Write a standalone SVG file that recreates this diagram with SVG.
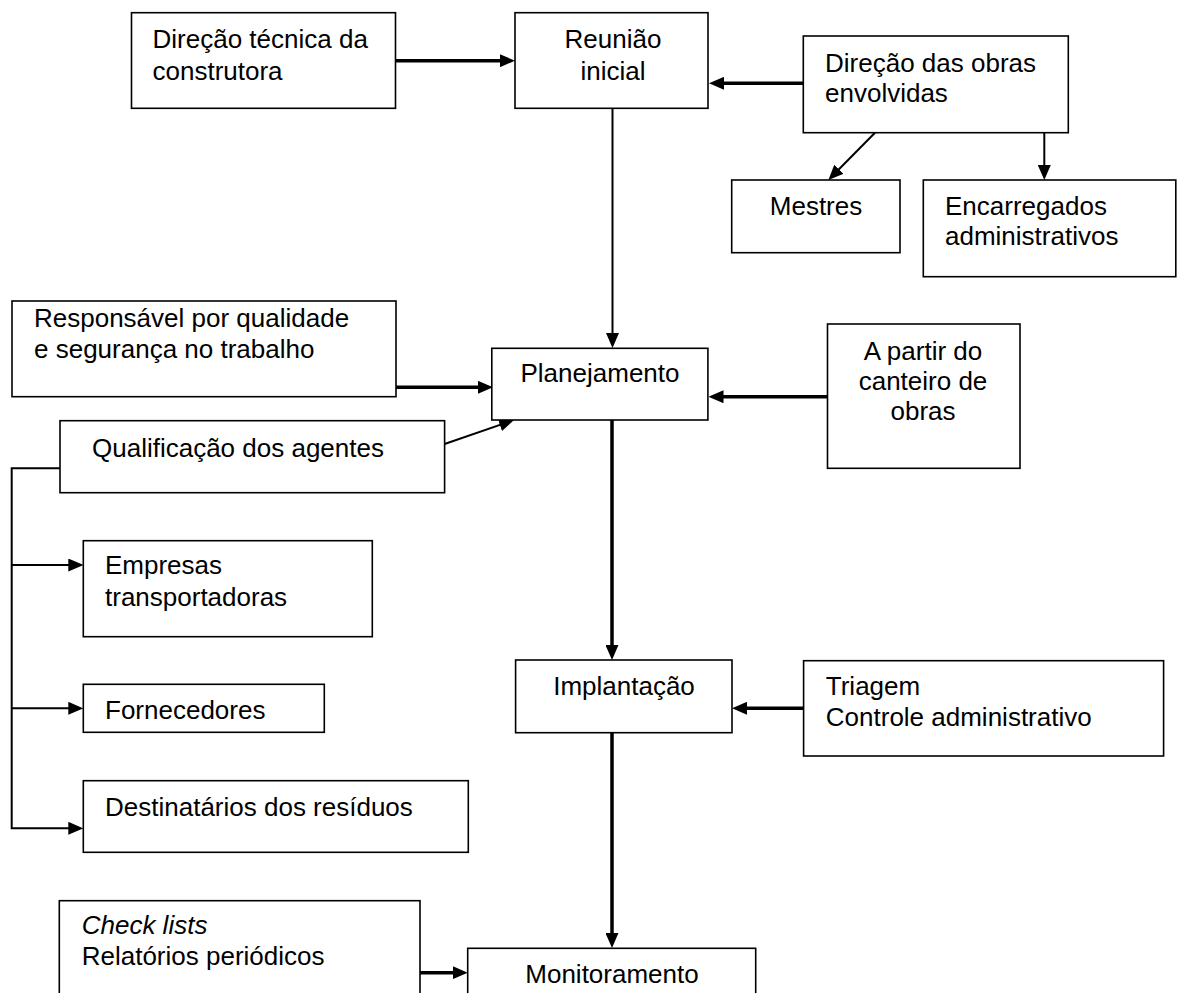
<svg xmlns="http://www.w3.org/2000/svg" width="1177" height="993" viewBox="0 0 1177 993">
<style>
.box{fill:#fff;stroke:#000;stroke-width:1.6}
.t{font-family:"Liberation Sans",Arial,sans-serif;font-size:26px;fill:#000}
.c{text-anchor:middle}
.thick{stroke:#000;stroke-width:3.5;fill:none}
.thin{stroke:#000;stroke-width:2;fill:none}
</style>
<defs>
<marker id="ah" markerUnits="userSpaceOnUse" markerWidth="15" markerHeight="13" refX="7" refY="6.5" orient="auto">
<path d="M0,0 L15,6.5 L0,13 Z" fill="#000"/>
</marker>
</defs>
<rect width="1177" height="993" fill="#fff"/>
<g id="connectors">
<line class="thick" x1="396" y1="60.7" x2="507" y2="60.7" marker-end="url(#ah)"/>
<line class="thick" x1="803" y1="83.3" x2="717" y2="83.3" marker-end="url(#ah)"/>
<line class="thin" x1="612.5" y1="108.3" x2="612.5" y2="340" marker-end="url(#ah)"/>
<line class="thin" x1="875" y1="132.7" x2="834" y2="174.3" marker-end="url(#ah)"/>
<line class="thin" x1="1044.3" y1="132.7" x2="1044.3" y2="172" marker-end="url(#ah)"/>
<line class="thick" x1="396" y1="387.3" x2="485" y2="387.3" marker-end="url(#ah)"/>
<line class="thick" x1="827.5" y1="396.7" x2="716.5" y2="396.7" marker-end="url(#ah)"/>
<line class="thin" x1="444.6" y1="444" x2="506.5" y2="422.6" marker-end="url(#ah)"/>
<polyline class="thin" points="60,468.3 11.7,468.3 11.7,828.3 75.3,828.3" marker-end="url(#ah)"/>
<line class="thin" x1="11.7" y1="565" x2="75.3" y2="565" marker-end="url(#ah)"/>
<line class="thin" x1="11.7" y1="708.3" x2="75.3" y2="708.3" marker-end="url(#ah)"/>
<line class="thick" x1="612" y1="420" x2="612" y2="652" marker-end="url(#ah)"/>
<line class="thick" x1="803.6" y1="708.3" x2="740" y2="708.3" marker-end="url(#ah)"/>
<line class="thick" x1="612" y1="732.7" x2="612" y2="940" marker-end="url(#ah)"/>
<line class="thick" x1="420" y1="972.7" x2="459.7" y2="972.7" marker-end="url(#ah)"/>
</g>
<g id="direcao-tecnica">
<rect class="box" x="131.5" y="12.7" width="264" height="95.6"/>
<text class="t" x="152.5" y="48.3">Direção técnica da</text>
<text class="t" x="152.5" y="80">construtora</text>
</g>
<g id="reuniao">
<rect class="box" x="515" y="12.7" width="193" height="95.6"/>
<text class="t c" x="613" y="48.3">Reunião</text>
<text class="t c" x="613" y="80">inicial</text>
</g>
<g id="direcao-obras">
<rect class="box" x="803.3" y="36" width="265" height="96.7"/>
<text class="t" x="825" y="71.7">Direção das obras</text>
<text class="t" x="825" y="101.7">envolvidas</text>
</g>
<g id="mestres">
<rect class="box" x="731.7" y="180" width="168.3" height="72.7"/>
<text class="t c" x="816" y="215">Mestres</text>
</g>
<g id="encarregados">
<rect class="box" x="923.3" y="180" width="252.5" height="96.7"/>
<text class="t" x="945" y="215">Encarregados</text>
<text class="t" x="945" y="245">administrativos</text>
</g>
<g id="responsavel">
<rect class="box" x="12" y="301" width="384" height="95.7"/>
<text class="t" x="34" y="327.3">Responsável por qualidade</text>
<text class="t" x="34" y="358.3">e segurança no trabalho</text>
</g>
<g id="planejamento">
<rect class="box" x="491.8" y="348.3" width="216.1" height="71.7"/>
<text class="t c" x="600" y="381.7">Planejamento</text>
</g>
<g id="a-partir">
<rect class="box" x="827.5" y="324" width="192.5" height="144.3"/>
<text class="t c" x="923" y="360">A partir do</text>
<text class="t c" x="923" y="390">canteiro de</text>
<text class="t c" x="923" y="420">obras</text>
</g>
<g id="qualificacao">
<rect class="box" x="60" y="420.7" width="384.6" height="72"/>
<text class="t" x="92" y="456.7">Qualificação dos agentes</text>
</g>
<g id="empresas">
<rect class="box" x="83.3" y="540.7" width="289" height="96"/>
<text class="t" x="105" y="574.3">Empresas</text>
<text class="t" x="105" y="606">transportadoras</text>
</g>
<g id="fornecedores">
<rect class="box" x="83.3" y="684.3" width="241" height="48"/>
<text class="t" x="105" y="719.3">Fornecedores</text>
</g>
<g id="destinatarios">
<rect class="box" x="83.3" y="780.7" width="385" height="71.6"/>
<text class="t" x="105" y="816">Destinatários dos resíduos</text>
</g>
<g id="implantacao">
<rect class="box" x="515.6" y="660" width="216.4" height="72.7"/>
<text class="t c" x="624" y="695">Implantação</text>
</g>
<g id="triagem">
<rect class="box" x="803.6" y="660.7" width="360" height="95.3"/>
<text class="t" x="825.8" y="695">Triagem</text>
<text class="t" x="825.8" y="726">Controle administrativo</text>
</g>
<g id="check-lists">
<rect class="box" x="59.3" y="900.7" width="360.7" height="120"/>
<text class="t" x="81.7" y="934" font-style="italic">Check lists</text>
<text class="t" x="81.7" y="965">Relatórios periódicos</text>
</g>
<g id="monitoramento">
<rect class="box" x="467.7" y="948.3" width="288" height="80"/>
<text class="t c" x="612" y="983.3">Monitoramento</text>
</g>
</svg>
